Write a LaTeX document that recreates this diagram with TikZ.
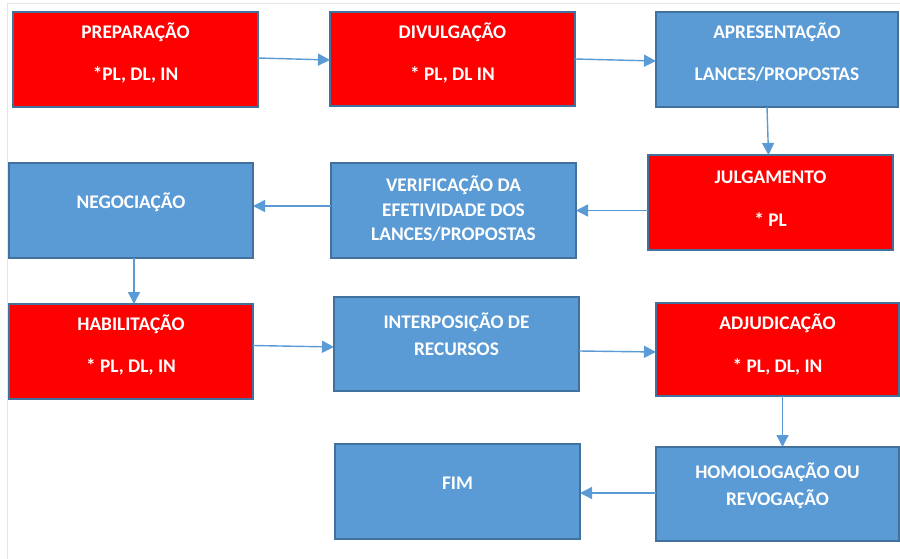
\documentclass[tikz,border=0pt]{standalone}
\usepackage{fontspec}
\setmainfont{Carlito}
\usetikzlibrary{arrows.meta,calc}
\definecolor{boxred}{HTML}{FF0000}
\definecolor{boxblue}{HTML}{5B9BD5}
\definecolor{boxedge}{HTML}{41719C}
\definecolor{arrblue}{HTML}{5B9BD5}
\begin{document}
\begin{tikzpicture}[x=1pt,y=-1pt,
  stage/.style={draw=boxedge, line width=2pt, rectangle, anchor=north west, inner sep=0pt, outer sep=0pt},
  redstage/.style={stage, fill=boxred},
  bluestage/.style={stage, fill=boxblue},
  lbl/.style={text=white, font=\fontsize{19.3}{22}\selectfont\bfseries, inner sep=0pt, anchor=base},
  flow/.style={draw=arrblue, line width=1.4pt, -{Triangle[length=12pt,width=12pt]}},
  frame/.style={draw=black!10, line width=1pt}]
\useasboundingbox (0,0) rectangle (900,559);
\fill[white] (0,0) rectangle (900,559);
\coordinate (ftl) at (7,4);
\coordinate (ftr) at (900,4);
\coordinate (fbl) at (7,559);
\draw[frame] (ftr) -- (ftl) -- (fbl);
% boxes
\node[redstage, minimum width=245pt, minimum height=95pt] (prep) at (13,12) {};
\node[redstage, minimum width=245pt, minimum height=94pt] (div) at (330,12) {};
\node[bluestage, minimum width=242pt, minimum height=95pt] (apres) at (656,12) {};
\node[redstage, minimum width=245pt, minimum height=95pt] (julg) at (648,155) {};
\node[bluestage, minimum width=245pt, minimum height=95pt] (verif) at (331,163) {};
\node[bluestage, minimum width=244pt, minimum height=95pt] (neg) at (9,163) {};
\node[redstage, minimum width=244pt, minimum height=95pt] (hab) at (9,304) {};
\node[bluestage, minimum width=245pt, minimum height=94pt] (interp) at (334,297) {};
\node[redstage, minimum width=243pt, minimum height=93pt] (adj) at (656,303) {};
\node[bluestage, minimum width=243pt, minimum height=94pt] (homol) at (656,447) {};
\node[bluestage, minimum width=245pt, minimum height=95pt] (fim) at (335,444) {};
% labels
\node[lbl] (t1a) at (135.5,39) {PREPARAÇÃO};
\node[lbl] (t1b) at (135.5,81) {*PL, DL, IN};
\node[lbl] (t2a) at (452.5,39) {DIVULGAÇÃO};
\node[lbl] (t2b) at (452.5,81) {* PL, DL IN};
\node[lbl] (t3a) at (777,39) {APRESENTAÇÃO};
\node[lbl] (t3b) at (777,81) {LANCES/PROPOSTAS};
\node[lbl] (t4a) at (770.5,183) {JULGAMENTO};
\node[lbl] (t4b) at (770.5,226) {* PL};
\node[lbl] (t5a) at (453.5,191) {VERIFICAÇÃO DA};
\node[lbl] (t5b) at (453.5,216) {EFETIVIDADE DOS};
\node[lbl] (t5c) at (453.5,240) {LANCES/PROPOSTAS};
\node[lbl] (t6a) at (131,208) {NEGOCIAÇÃO};
\node[lbl] (t7a) at (131,330) {HABILITAÇÃO};
\node[lbl] (t7b) at (131,372) {* PL, DL, IN};
\node[lbl] (t8a) at (456.5,328) {INTERPOSIÇÃO DE};
\node[lbl] (t8b) at (456.5,355) {RECURSOS};
\node[lbl] (t9a) at (777.5,329) {ADJUDICAÇÃO};
\node[lbl] (t9b) at (777.5,372) {* PL, DL, IN};
\node[lbl] (t10a) at (777.5,478) {HOMOLOGAÇÃO OU};
\node[lbl] (t10b) at (777.5,505) {REVOGAÇÃO};
\node[lbl] (t11a) at (457.5,489) {FIM};
% connectors
\draw[flow] ($(prep.east)+(0,-1.5)$) -- ($(div.west)+(0,1)$);
\draw[flow] ($(div.east)+(0,0)$) -- ($(apres.west)+(0,1.5)$);
\draw[flow] ($(apres.south)+(-10,0)$) -- ($(julg.north)+(-2,0)$);
\draw[flow] (julg.west |- verif.east) -- (verif.east);
\draw[flow] ($(verif.west)+(0,-4.5)$) -- ($(neg.east)+(0,-4.5)$);
\draw[flow] ($(neg.south)+(3,0)$) -- ($(hab.north)+(3,0)$);
\draw[flow] ($(hab.east)+(0,-6)$) -- ($(interp.west)+(0,3)$);
\draw[flow] ($(interp.east)+(0,7)$) -- ($(adj.west)+(0,2.5)$);
\draw[flow] ($(adj.south)+(5,0)$) -- ($(homol.north)+(5,0)$);
\draw[flow] ($(homol.west)+(0,-1)$) -- ($(homol.west -| fim.east)+(0,-1)$);
\end{tikzpicture}
\end{document}
